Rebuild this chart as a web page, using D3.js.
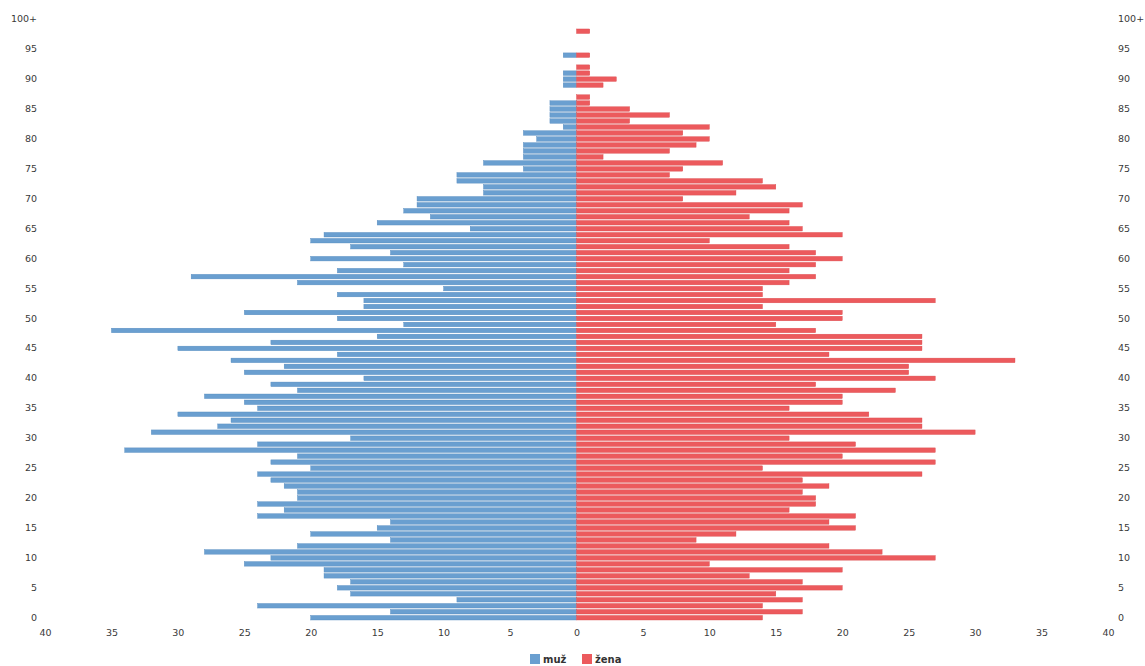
<!DOCTYPE html>
<html>
<head>
<meta charset="utf-8">
<script src="https://cdn.jsdelivr.net/npm/d3@7"></script>
<style>
  html, body { margin: 0; padding: 0; background: #fff; }
  svg { display: block; }
  text { font-family: "DejaVu Sans", Verdana, sans-serif; }
</style>
</head>
<body>
<svg id="chart" width="1145" height="666"></svg>
<script>
// ages 0 .. 100 (last = "100+")
const ages = d3.range(0, 101);
const male = [
  20,14,24,9,17,18,17,19,19,25,
  23,28,21,14,20,15,14,24,22,24,
  21,21,22,23,24,20,23,21,34,24,
  17,32,27,26,30,24,25,28,21,23,
  16,25,22,26,18,30,23,15,35,13,
  18,25,16,16,18,10,21,29,18,13,
  20,14,17,20,19,8,15,11,13,12,
  12,7,7,9,9,4,7,4,4,4,
  3,4,1,2,2,2,2,0,0,1,
  1,1,0,0,1,0,0,0,0,0,
  0
];
const female = [
  14,17,14,17,15,20,17,13,20,10,
  27,23,19,9,12,21,19,21,16,18,
  18,17,19,17,26,14,27,20,27,21,
  16,30,26,26,22,16,20,20,24,18,
  27,25,25,33,19,26,26,26,18,15,
  20,20,14,27,14,14,16,18,16,18,
  20,18,16,10,20,17,16,13,16,17,
  8,12,15,14,7,8,11,2,7,9,
  10,8,10,4,7,4,1,1,0,2,
  3,1,1,0,1,0,0,0,1,0,
  0
];
const ageTicks = d3.range(0, 101, 5);
const xTicks = d3.range(-40, 41, 5);
const seriesNames = ["muž", "žena"];
const seriesColors = ["#6a9fd0", "#ec5a5d"];
const seriesStroke = ["#5389bd", "#db4b4e"];

const svg = d3.select("#chart");

const x = d3.scaleLinear().domain([-40, 40]).range([45, 1108]);
const y = d3.scaleBand().domain(ages).range([620, 17]).paddingInner(0.24);

const rows = ages.map((a, i) => ({ age: a, m: male[i], f: female[i] }));

const g = svg.append("g");

// male bars (left)
g.selectAll("rect.m").data(rows.filter(d => d.m > 0)).join("rect")
  .attr("class", "m")
  .attr("x", d => x(-d.m))
  .attr("y", d => y(d.age))
  .attr("width", d => x(0) - x(-d.m))
  .attr("height", y.bandwidth())
  .attr("fill", seriesColors[0])
  .attr("stroke", seriesStroke[0])
  .attr("stroke-width", 0.4);

// female bars (right)
g.selectAll("rect.f").data(rows.filter(d => d.f > 0)).join("rect")
  .attr("class", "f")
  .attr("x", x(0))
  .attr("y", d => y(d.age))
  .attr("width", d => x(d.f) - x(0))
  .attr("height", y.bandwidth())
  .attr("fill", seriesColors[1])
  .attr("stroke", seriesStroke[1])
  .attr("stroke-width", 0.4);

const ageLabel = a => a === 100 ? "100+" : String(a);

// left age axis
const yAxisL = d3.axisLeft(y).tickValues(ageTicks).tickFormat(ageLabel).tickSize(0).tickPadding(0);
svg.append("g").attr("transform", "translate(37,0)").call(yAxisL)
  .call(s => s.select(".domain").remove())
  .selectAll("text").attr("font-size", 9.5).attr("fill", "#3a3a3a")
  .attr("font-family", "DejaVu Sans, sans-serif");

// right age axis
const yAxisR = d3.axisRight(y).tickValues(ageTicks).tickFormat(ageLabel).tickSize(0).tickPadding(0);
svg.append("g").attr("transform", "translate(1118,0)").call(yAxisR)
  .call(s => s.select(".domain").remove())
  .selectAll("text").attr("font-size", 9.5).attr("fill", "#3a3a3a")
  .attr("font-family", "DejaVu Sans, sans-serif");

// bottom value axis
const xAxis = d3.axisBottom(x).tickValues(xTicks).tickFormat(v => Math.abs(v)).tickSize(0).tickPadding(0);
svg.append("g").attr("transform", "translate(0,629)").call(xAxis)
  .call(s => s.select(".domain").remove())
  .selectAll("text").attr("font-size", 9.5).attr("fill", "#3a3a3a")
  .attr("font-family", "DejaVu Sans, sans-serif");

// legend
const legend = svg.append("g").attr("transform", "translate(530,654)");
const offsets = [0, 52];
seriesNames.forEach((name, i) => {
  const lg = legend.append("g").attr("transform", `translate(${offsets[i]},0)`);
  lg.append("rect").attr("width", 10).attr("height", 10).attr("fill", seriesColors[i]);
  lg.append("text").attr("x", 13).attr("y", 9).attr("font-size", 10)
    .attr("font-weight", "bold").attr("fill", "#333").text(name);
});
</script>
</body>
</html>
